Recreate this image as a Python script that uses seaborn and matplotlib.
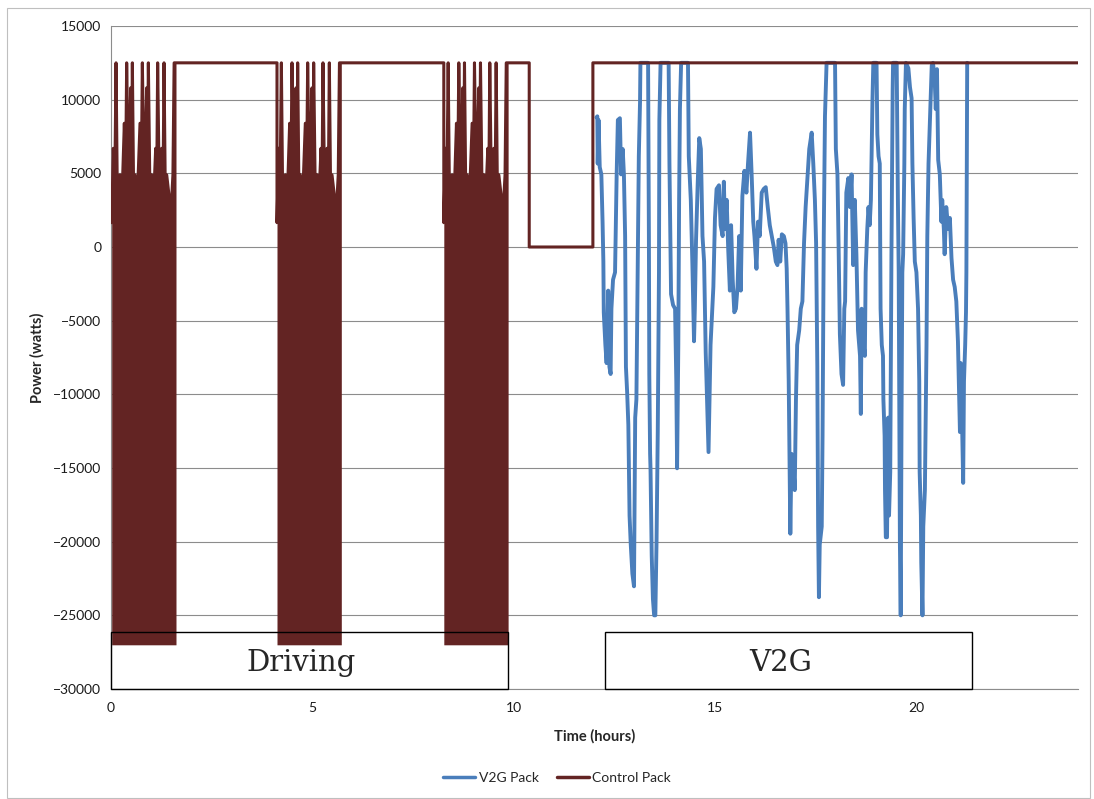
import numpy as np
import pandas as pd
import matplotlib
matplotlib.use("Agg")
import matplotlib.pyplot as plt
from matplotlib.patches import Rectangle
import seaborn as sns

# ---------------------------------------------------------------- data
# V2G pack power trace (hours, watts)
v2g_hours = [
    12.05, 12.07, 12.08, 12.10, 12.13, 12.17, 12.20, 12.22, 12.23, 12.27,
    12.30, 12.34, 12.37, 12.40, 12.42, 12.46, 12.51, 12.55, 12.58, 12.63,
    12.66, 12.70, 12.73, 12.76, 12.78, 12.81, 12.84, 12.87, 12.90, 12.94,
    12.98, 13.01, 13.04, 13.08, 13.10, 13.13, 13.14, 13.33, 13.35, 13.36,
    13.38, 13.39, 13.42, 13.45, 13.48, 13.51, 13.54, 13.57, 13.60, 13.61,
    13.64, 13.84, 13.86, 13.88, 13.90, 13.95, 14.00, 14.03, 14.05, 14.08,
    14.10, 14.12, 14.15, 14.32, 14.34, 14.39, 14.43, 14.47, 14.49, 14.52,
    14.56, 14.60, 14.64, 14.68, 14.72, 14.76, 14.79, 14.83, 14.88, 14.95,
    14.99, 15.03, 15.09, 15.13, 15.18, 15.21, 15.24, 15.28, 15.32, 15.36,
    15.39, 15.43, 15.47, 15.51, 15.55, 15.59, 15.63, 15.67, 15.72, 15.77,
    15.81, 15.86, 15.90, 15.94, 15.97, 16.02, 16.06, 16.10, 16.15, 16.20,
    16.25, 16.30, 16.35, 16.40, 16.45, 16.50, 16.54, 16.57, 16.61, 16.65,
    16.70, 16.74, 16.77, 16.79, 16.82, 16.84, 16.86, 16.89, 16.93, 16.97,
    17.00, 17.03, 17.08, 17.12, 17.16, 17.20, 17.24, 17.29, 17.33, 17.39,
    17.43, 17.47, 17.50, 17.53, 17.55, 17.57, 17.59, 17.64, 17.66, 17.69,
    17.72, 17.76, 17.97, 17.99, 18.03, 18.06, 18.09, 18.13, 18.17, 18.20,
    18.22, 18.25, 18.30, 18.34, 18.38, 18.42, 18.46, 18.50, 18.54, 18.59,
    18.61, 18.63, 18.67, 18.71, 18.73, 18.77, 18.80, 18.83, 18.86, 18.88,
    18.90, 18.92, 19.00, 19.02, 19.05, 19.08, 19.10, 19.13, 19.16, 19.17,
    19.20, 19.21, 19.23, 19.26, 19.29, 19.31, 19.34, 19.35, 19.37, 19.40,
    19.41, 19.50, 19.53, 19.55, 19.58, 19.60, 19.62, 19.64, 19.66, 19.69,
    19.70, 19.73, 19.79, 19.83, 19.87, 19.89, 19.92, 19.95, 19.99, 20.03,
    20.06, 20.07, 20.10, 20.11, 20.14, 20.16, 20.20, 20.24, 20.26, 20.29,
    20.32, 20.35, 20.37, 20.40, 20.44, 20.47, 20.50, 20.53, 20.57, 20.61,
    20.63, 20.67, 20.69, 20.73, 20.78, 20.82, 20.86, 20.90, 20.94, 20.98,
    21.02, 21.05, 21.07, 21.09, 21.12, 21.15, 21.17, 21.20, 21.22, 21.23,
    21.25,
]
v2g_watts = [
    8800, 8870, 5660, 8620, 5420, 4930, 1720, -990, -4430, -6650,
    -7880, -2960, -8130, -8620, -4190, -2220, -1720, 4930, 8620, 8740,
    4930, 6650, 4930, 740, -8130, -9850, -12070, -18230, -20200, -22170,
    -23030, -11580, -10340, 740, 6160, 9850, 12500, 12500, 740, -8620,
    -14040, -15020, -20940, -23890, -25000, -25000, -19950, -12560, -1720, 8620,
    12500, 12500, 5660, 1230, -3200, -3940, -4190, -9110, -15020, -6650,
    3200, 9360, 12500, 12500, 6160, 3200, -1230, -6400, -4190, 490,
    4190, 7390, 6650, 740, -990, -7140, -10100, -13920, -6650, -2710,
    1970, 3940, 4190, 1480, 740, 4430, 1230, 3200, -250, -2960,
    1480, -2220, -4430, -4190, -2710, 740, -2960, 3450, 5170, 3690,
    5660, 7760, 4930, 1720, 740, -1480, 1720, 740, 3690, 3940,
    4060, 2710, 1480, 740, 0, -990, -1230, 490, -990, 860,
    740, 250, -1480, -4190, -9110, -14040, -19460, -14040, -14530, -16500,
    -10340, -6650, -5660, -4190, -3690, 250, 2710, 4930, 6650, 7760,
    5660, 3200, 250, -8130, -18970, -23770, -20200, -18970, -12810, 740,
    8870, 12500, 12500, 6650, 4930, -250, -5910, -8620, -9360, -4190,
    -3690, 3690, 4680, 2710, 4930, -1230, 3200, -490, -5660, -7390,
    -11330, -4190, -6400, -7390, -1720, 1230, 2710, 1480, 3200, 6900,
    10100, 12500, 12500, 7640, 6160, 5660, -4190, -6650, -7390, -10340,
    -12810, -16500, -19700, -19700, -11580, -18230, -15270, -9850, -490, 10590,
    12500, 12500, 3200, -1720, -20200, -25000, -11580, -1720, -490, 5660,
    9360, 12500, 12130, 10840, 10100, 5660, 1970, -990, -1720, -4190,
    -9110, -15270, -18230, -21430, -25000, -18970, -16500, -6650, 740, 5660,
    8130, 10590, 12320, 12500, 11580, 9360, 12070, 5910, 4930, 1720,
    3200, 1230, -490, 2710, 1230, 1970, -740, -2220, -2710, -3690,
    -6400, -10100, -12560, -7880, -11580, -16010, -9110, -6650, -4430, -1720,
    12500,
]

# Control pack during one drive cycle: upper envelope of the power swings
drive_offset_hours = [
    0.000, 0.041, 0.074, 0.108, 0.141, 0.207, 0.256, 0.314, 0.347, 0.372,
    0.422, 0.471, 0.496, 0.513, 0.546, 0.579, 0.637, 0.703, 0.736, 0.761,
    0.811, 0.868, 0.893, 0.910, 0.951, 0.993, 1.042, 1.092, 1.117, 1.141,
    1.183, 1.241, 1.274, 1.299, 1.332, 1.365, 1.431, 1.489, 1.520, 1.550,
    1.596,
]
drive_peak_watts = [
    1650, 6700, 3300, 12500, 3300, 4900, 3300, 8400, 5000, 12500,
    3300, 10800, 6000, 12500, 3300, 4900, 3300, 8400, 5000, 12500,
    3300, 10800, 6000, 12500, 3300, 4900, 3300, 6700, 4000, 12500,
    3300, 6700, 4000, 12500, 3300, 4900, 3300, 3300, 4900, 12500,
    12500,
]
drive_floor_watts = -27000          # regen limit reached throughout each drive
drive_block_starts = [0.017, 4.12, 8.26]
pack_max_watts = 12500

# Control pack after the last drive: rest at full power, idle, then full power
control_tail_hours = [10.38, 10.38, 11.96, 11.96, 24.0]
control_tail_watts = [12500, 0, 0, 12500, 12500]

# Annotated periods (start, end, label)
period_labels = ["Driving", "V2G"]
period_starts = [0.0, 12.26]
period_ends = [9.85, 21.36]

# ---------------------------------------------------------------- series
ctrl_h, ctrl_w = [], []
for i, s in enumerate(drive_block_starts):
    if i > 0:
        ctrl_h.append(s)
        ctrl_w.append(pack_max_watts)
    ctrl_h += [s + o for o in drive_offset_hours]
    ctrl_w += drive_peak_watts
ctrl_h += control_tail_hours
ctrl_w += control_tail_watts

df = pd.concat([
    pd.DataFrame({"Time (hours)": v2g_hours, "Power (watts)": v2g_watts,
                  "series": "V2G Pack"}),
    pd.DataFrame({"Time (hours)": ctrl_h, "Power (watts)": ctrl_w,
                  "series": "Control Pack"}),
], ignore_index=True)

# ---------------------------------------------------------------- style
sns.set_style("white")
plt.rcParams["font.family"] = ["Lato", "DejaVu Sans"]

V2G_COLOR = "#4A7EBB"
CTRL_COLOR = "#632423"
GRID = "#8C8C8C"

W, H = 1094, 799
fig = plt.figure(figsize=(W / 100, H / 100), dpi=100)
ax = fig.add_axes([111 / W, 1 - 689 / H, 967 / W, 663 / H])

sns.lineplot(data=df[df.series == "V2G Pack"], x="Time (hours)", y="Power (watts)",
             color=V2G_COLOR, lw=2.8, sort=False, estimator=None, ax=ax,
             zorder=2, legend=False, solid_joinstyle="round")
for s in drive_block_starts:
    ax.fill_between([s + o for o in drive_offset_hours], drive_floor_watts,
                    drive_peak_watts, color=CTRL_COLOR, lw=0, zorder=3)
sns.lineplot(data=df[df.series == "Control Pack"], x="Time (hours)", y="Power (watts)",
             color=CTRL_COLOR, lw=2.2, sort=False, estimator=None, ax=ax,
             zorder=4, legend=False)

ax.set_xlim(0, 24)
ax.set_ylim(-30000, 15000)
ax.set_xticks([0, 5, 10, 15, 20])
ax.set_yticks(np.arange(-30000, 15001, 5000))
ax.yaxis.grid(True, color=GRID, lw=0.8)
ax.xaxis.grid(False)
ax.set_axisbelow(True)
for side in ("top", "right"):
    ax.spines[side].set_visible(False)
for side in ("left", "bottom"):
    ax.spines[side].set_color(GRID)
    ax.spines[side].set_linewidth(0.8)
ax.tick_params(axis="both", which="major", length=4, width=0.8, color=GRID,
               labelsize=10, labelcolor="#1a1a1a", pad=3, direction="out")
ax.tick_params(axis="x", pad=5)
ax.set_xlabel("Time (hours)", fontsize=10.5, fontweight="bold", labelpad=11)
ax.set_ylabel("Power (watts)", fontsize=10.5, fontweight="bold", labelpad=6)

# period boxes with labels
for lab, x0, x1 in zip(period_labels, period_starts, period_ends):
    rect = Rectangle((x0, -30000), x1 - x0, 3900, fill=False, ec="black",
                     lw=1.0, zorder=6, clip_on=False)
    ax.add_patch(rect)
    clip = Rectangle((x0, -29150), x1 - x0, 3050, transform=ax.transData,
                     fill=False, lw=0, visible=False)
    ax.add_patch(clip)
    t = ax.text((x0 + x1) / 2 - 0.2, -28250, lab, ha="center", va="center",
                family="DejaVu Serif", fontsize=21, zorder=7)
    t.set_clip_path(clip)

# legend below the axes
handles = [plt.Line2D([], [], color=V2G_COLOR, lw=2.5),
           plt.Line2D([], [], color=CTRL_COLOR, lw=2.5)]
fig.legend(handles, ["V2G Pack", "Control Pack"], loc="center",
           bbox_to_anchor=(557 / W, 1 - 778 / H), ncol=2, frameon=False,
           fontsize=10, handlelength=2.3, handletextpad=0.25, columnspacing=1.3)

# chart-area border
fig.add_artist(Rectangle((7 / W, 1 / H), 1083 / W, 790 / H, transform=fig.transFigure,
                         fill=False, ec="#BFBFBF", lw=0.8))

fig.savefig("out.png", dpi=100)
